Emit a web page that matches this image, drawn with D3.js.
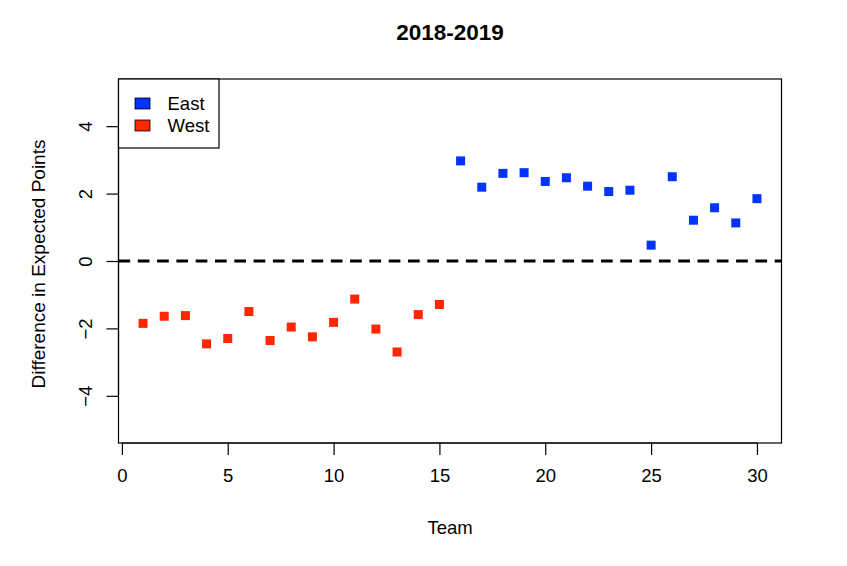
<!DOCTYPE html>
<html>
<head>
<meta charset="utf-8">
<script src="https://cdn.jsdelivr.net/npm/d3@7"></script>
<style>
  body { margin: 0; background: #fff; }
  text { font-family: "Liberation Sans", Arial, Helvetica, sans-serif; fill: #000; }
  .axis path, .axis line { stroke: #000; stroke-width: 1.2px; }
  .axis text { font-size: 18.5px; }
</style>
</head>
<body>
<div id="chart"></div>
<script>
// team numbers and point differences
const westTeams = [1, 2, 3, 4, 5, 6, 7, 8, 9, 10, 11, 12, 13, 14, 15]
const westValues = [-1.85, -1.64, -1.62, -2.46, -2.30, -1.50, -2.36, -1.96, -2.25, -1.82, -1.13, -2.02, -2.70, -1.59, -1.29]
const eastTeams = [16, 17, 18, 19, 20, 21, 22, 23, 24, 25, 26, 27, 28, 29, 30]
const eastValues = [2.97, 2.19, 2.60, 2.62, 2.36, 2.47, 2.22, 2.06, 2.10, 0.47, 2.50, 1.21, 1.58, 1.13, 1.85]
const conferences = ["East", "West"]
const xTicks = [0, 5, 10, 15, 20, 25, 30]
const yTicks = [-4, -2, 0, 2, 4]

;(function () {
    const margin = { top: 79, right: 65.5, bottom: 123, left: 118.5 }
    const width = 847 - margin.left - margin.right,
        height = 566 - margin.top - margin.bottom;

    const svg = d3.select("#chart")
        .append("svg")
        .attr("width", 847)
        .attr("height", 566)

    const g = svg.append("g")
        .attr("transform", "translate(" + margin.left + "," + margin.top + ")")

    const colorScale = d3.scaleOrdinal().domain(conferences).range(["#0433ff", "#ff2600"])
    const xPositionScale = d3.scaleLinear().domain([-0.16, 31.16]).range([0, width])
    const yPositionScale = d3.scaleLinear().domain([-5.4, 5.4]).range([height, 0])

    const points = [
        ...eastTeams.map((t, i) => ({ team: t, value: eastValues[i], conf: "East" })),
        ...westTeams.map((t, i) => ({ team: t, value: westValues[i], conf: "West" }))
    ]

    // axes, R style: line only between first and last tick
    const xAxis = d3.axisBottom(xPositionScale).tickValues(xTicks).tickSize(12).tickPadding(14).tickSizeOuter(0)
    const xg = g.append("g").attr("class", "axis x-axis")
        .attr("transform", "translate(0," + height + ")")
        .call(xAxis)
    xg.select(".domain").attr("d", "M" + xPositionScale(xTicks[0]) + ",0H" + xPositionScale(xTicks[xTicks.length - 1]))

    const yAxis = d3.axisLeft(yPositionScale).tickValues(yTicks).tickSize(12).tickSizeOuter(0)
    const yg = g.append("g").attr("class", "axis y-axis").call(yAxis)
    yg.select(".domain").attr("d", "M0," + yPositionScale(yTicks[0]) + "V" + yPositionScale(yTicks[yTicks.length - 1]))
    yg.selectAll(".tick text")
        .attr("x", null).attr("dy", null)
        .attr("text-anchor", "middle")
        .attr("dominant-baseline", "central")
        .attr("transform", "translate(-33.5,0) rotate(-90)")

    // zero line
    g.append("line")
        .attr("x1", 0).attr("x2", width)
        .attr("y1", yPositionScale(0)).attr("y2", yPositionScale(0))
        .attr("stroke", "#000")
        .attr("stroke-width", 3)
        .attr("stroke-dasharray", "11.7,7.6")

    // squares
    const size = 9
    g.selectAll(".pt")
        .data(points)
        .enter()
        .append("rect")
        .attr("class", "pt")
        .attr("x", d => xPositionScale(d.team) - size / 2)
        .attr("y", d => yPositionScale(d.value) - size / 2)
        .attr("width", size)
        .attr("height", size)
        .attr("fill", d => colorScale(d.conf))

    // box
    g.append("rect")
        .attr("width", width).attr("height", height)
        .attr("fill", "none").attr("stroke", "#000").attr("stroke-width", 1.2)

    // legend
    const legend = g.append("g")
    legend.append("rect")
        .attr("width", 100.5).attr("height", 69)
        .attr("fill", "#fff").attr("stroke", "#000").attr("stroke-width", 1.2)
    const items = legend.selectAll(".item")
        .data(conferences)
        .enter()
        .append("g")
        .attr("transform", (d, i) => "translate(0," + (24.5 + i * 22) + ")")
    items.append("rect")
        .attr("x", 16.5).attr("y", -5.5)
        .attr("width", 15).attr("height", 11)
        .attr("fill", d => colorScale(d))
        .attr("stroke", "#000").attr("stroke-width", 0.8)
    items.append("text")
        .attr("x", 49)
        .attr("dominant-baseline", "central")
        .style("font-size", "18.5px")
        .text(d => d)

    // titles
    svg.append("text")
        .attr("x", margin.left + width / 2).attr("y", 32)
        .attr("text-anchor", "middle").attr("dominant-baseline", "central")
        .style("font-size", "22.5px").style("font-weight", "bold")
        .text("2018-2019")

    svg.append("text")
        .attr("x", margin.left + width / 2).attr("y", 527)
        .attr("text-anchor", "middle").attr("dominant-baseline", "central")
        .style("font-size", "18.5px")
        .text("Team")

    svg.append("text")
        .attr("transform", "translate(38," + (margin.top + height / 2 + 3) + ") rotate(-90)")
        .attr("text-anchor", "middle").attr("dominant-baseline", "central")
        .style("font-size", "19px")
        .text("Difference in Expected Points")
})()
</script>
</body>
</html>
